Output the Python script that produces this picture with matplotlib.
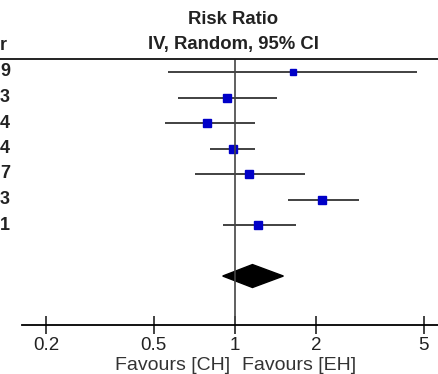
import matplotlib
matplotlib.use('Agg')
import matplotlib.pyplot as plt
from matplotlib.lines import Line2D

plt.rcParams['font.family'] = ['Liberation Sans', 'DejaVu Sans']

# Study rows: only the last character of each label is visible in the crop
row_tails = ['9', '3', '4', '4', '7', '3', '1']
header_tail = 'r'
rr = [1.64, 0.93, 0.79, 0.98, 1.13, 2.10, 1.22]
ci_lo = [0.565, 0.615, 0.55, 0.81, 0.71, 1.57, 0.90]
ci_hi = [4.72, 1.43, 1.19, 1.19, 1.82, 2.88, 1.68]
box_size = [4.0, 5.2, 5.8, 6.0, 5.4, 5.2, 5.4]

# Pooled estimate
pooled_rr, pooled_lo, pooled_hi = 1.16, 0.90, 1.51

ticks = [0.2, 0.5, 1, 2, 5]
tick_labels = ['0.2', '0.5', '1', '2', '5']

W, H = 439, 374
fig = plt.figure(figsize=(W / 100, H / 100), dpi=100)

# axes from x=22px to right edge, y from 59px to 325px
ax = fig.add_axes([22 / W, (H - 325) / H, 1 - 22 / W, (325 - 59) / H])
ax.set_xscale('log')
ax.set_xlim(0.1626, 5.69)
ax.set_ylim(10.92, 0.49)

rows = list(range(1, len(rr) + 1))
for y, m, lo, hi, s in zip(rows, rr, ci_lo, ci_hi, box_size):
    ax.plot([lo, hi], [y, y], color='#333333', lw=1.3, solid_capstyle='butt')
    ax.plot(m, y, marker='s', ms=s, color='#0000c8', mec='#0000c8')

ax.axvline(1, color='#444444', lw=1.2)

dy = 9
h = 0.45
ax.fill([pooled_lo, pooled_rr, pooled_hi, pooled_rr], [dy, dy - h, dy, dy + h],
        color='black')

for side in ['top', 'left', 'right']:
    ax.spines[side].set_visible(False)
ax.spines['bottom'].set_linewidth(1.3)
ax.set_yticks([])
ax.xaxis.set_minor_locator(matplotlib.ticker.NullLocator())
ax.set_xticks(ticks)
ax.set_xticklabels(tick_labels)
ax.tick_params(axis='x', direction='inout', length=13, width=1.2, labelsize=13.5,
               pad=2, colors='#222222')

# header rule
fig.add_artist(Line2D([0, 1], [(H - 59) / H, (H - 59) / H], color='#222222', lw=1.4))

fig.text(233 / W, (H - 20) / H, 'Risk Ratio', ha='center', va='center',
         fontsize=13.3, fontweight='bold', color='#222222')
fig.text(233 / W, (H - 45) / H, 'IV, Random, 95% CI', ha='center', va='center',
         fontsize=13.3, fontweight='bold', color='#222222')

fig.text(0, (H - 45) / H, header_tail, ha='left', va='center',
         fontsize=13, fontweight='bold', color='#222222')
for y, t in zip(rows, row_tails):
    ypx = 72 + (y - 1) * 25.5
    fig.text(0, (H - ypx) / H, t, ha='left', va='center',
             fontsize=13, fontweight='bold', color='#222222')

fig.text(230 / W, (H - 366) / H, 'Favours [CH]', ha='right', va='center',
         fontsize=14, color='#333333')
fig.text(242 / W, (H - 366) / H, 'Favours [EH]', ha='left', va='center',
         fontsize=14, color='#333333')

fig.savefig('out.png', dpi=100)
